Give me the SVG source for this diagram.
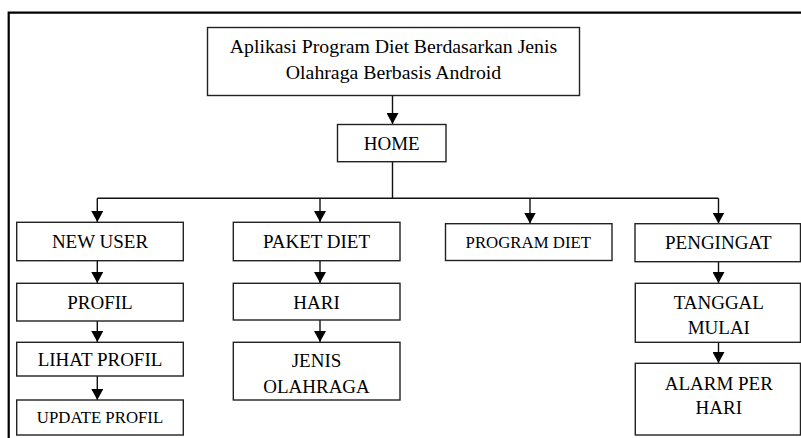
<svg xmlns="http://www.w3.org/2000/svg" width="801" height="438" viewBox="0 0 801 438">
<defs>
<style>
.box{fill:#fff;stroke:#222;stroke-width:1.4}
.t{font-family:"Liberation Serif","Times New Roman",serif;font-size:19px;fill:#000;text-anchor:middle}
.s{font-size:16.8px}
.c{fill:none;stroke:#111;stroke-width:1.4}
</style>
<marker id="ah" viewBox="0 0 11 12" refX="11" refY="6" markerWidth="11" markerHeight="12" markerUnits="userSpaceOnUse" orient="auto">
<path d="M0,0 L11,6 L0,12 z" fill="#000"/>
</marker>
</defs>
<rect width="801" height="438" fill="#fff"/>
<path d="M801,12.7 H8.7 V438" fill="none" stroke="#000" stroke-width="2.2"/>
<g id="connectors">
<path class="c" d="M392.5,95.5 V124" marker-end="url(#ah)"/>
<path class="c" d="M392.5,161.7 V198.3 M97.3,198.3 H718.5"/>
<path class="c" d="M97.3,198.3 V222" marker-end="url(#ah)"/>
<path class="c" d="M320,198.3 V222" marker-end="url(#ah)"/>
<path class="c" d="M530,198.3 V223.5" marker-end="url(#ah)"/>
<path class="c" d="M718.5,198.3 V223.5" marker-end="url(#ah)"/>
<path class="c" d="M97.3,260.7 V283" marker-end="url(#ah)"/>
<path class="c" d="M97.3,321 V342" marker-end="url(#ah)"/>
<path class="c" d="M97.3,376 V400" marker-end="url(#ah)"/>
<path class="c" d="M320,260.7 V283" marker-end="url(#ah)"/>
<path class="c" d="M320,320 V342" marker-end="url(#ah)"/>
<path class="c" d="M718.5,261.7 V283" marker-end="url(#ah)"/>
<path class="c" d="M718.5,342.3 V363" marker-end="url(#ah)"/>
</g>
<g id="title">
<rect class="box" x="207.5" y="27.5" width="372" height="68"/>
<text class="t" x="393.5" y="53" style="font-size:19.8px">Aplikasi Program Diet Berdasarkan Jenis</text>
<text class="t" x="393.5" y="79" style="font-size:19.8px">Olahraga Berbasis Android</text>
</g>
<g id="home">
<rect class="box" x="337.5" y="124.5" width="108.5" height="37.2"/>
<text class="t" x="391.7" y="150">HOME</text>
</g>
<g id="new-user">
<rect class="box" x="16.7" y="222.3" width="166.6" height="38.4"/>
<text class="t" x="100" y="248">NEW USER</text>
</g>
<g id="profil">
<rect class="box" x="16.7" y="283.3" width="166.6" height="37.7"/>
<text class="t" x="100" y="309">PROFIL</text>
</g>
<g id="lihat-profil">
<rect class="box" x="16.7" y="342.3" width="166.6" height="33.7"/>
<text class="t" x="100" y="366">LIHAT PROFIL</text>
</g>
<g id="update-profil">
<rect class="box" x="16.7" y="400" width="166.6" height="35"/>
<text class="t s" x="100" y="423.3">UPDATE PROFIL</text>
</g>
<g id="paket-diet">
<rect class="box" x="233.3" y="222.3" width="166.7" height="38.4"/>
<text class="t" x="316.5" y="248">PAKET DIET</text>
</g>
<g id="hari">
<rect class="box" x="233.3" y="283.3" width="166.7" height="36.7"/>
<text class="t" x="316.5" y="308.5">HARI</text>
</g>
<g id="jenis-olahraga">
<rect class="box" x="233.3" y="342.3" width="166.7" height="57.7"/>
<text class="t" x="316.5" y="367.3">JENIS</text>
<text class="t" x="316.5" y="392.7">OLAHRAGA</text>
</g>
<g id="program-diet">
<rect class="box" x="445.5" y="223.7" width="166.5" height="36.8"/>
<text class="t s" x="528.3" y="247.7">PROGRAM DIET</text>
</g>
<g id="pengingat">
<rect class="box" x="635" y="223.7" width="165.5" height="38"/>
<text class="t" x="718.3" y="248.5">PENGINGAT</text>
</g>
<g id="tanggal-mulai">
<rect class="box" x="635.3" y="283.3" width="165.2" height="59"/>
<text class="t" x="718.8" y="309.3">TANGGAL</text>
<text class="t" x="718.8" y="334">MULAI</text>
</g>
<g id="alarm-per-hari">
<rect class="box" x="635.3" y="363.3" width="165.2" height="71.7"/>
<text class="t" x="718.8" y="390">ALARM PER</text>
<text class="t" x="718.8" y="414">HARI</text>
</g>
</svg>
